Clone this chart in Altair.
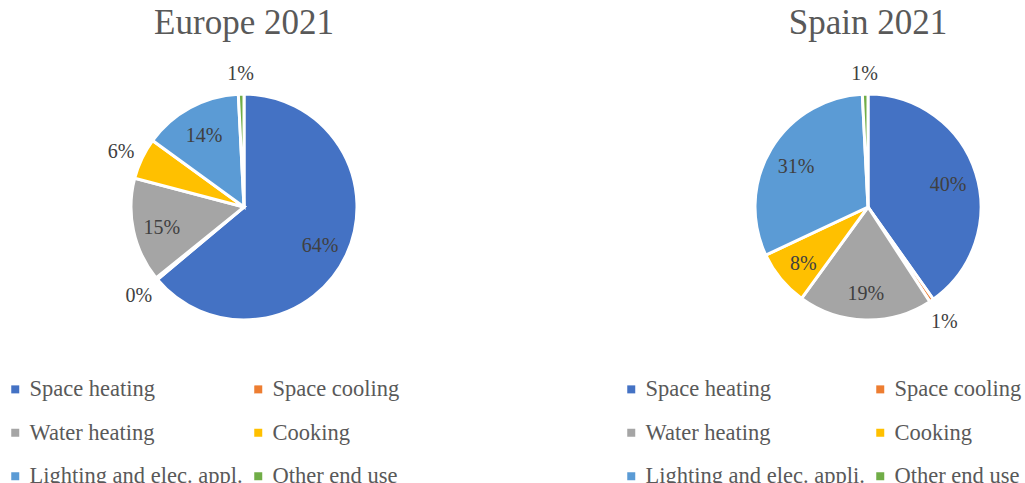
import altair as alt
import pandas as pd

categories_eu = ["Space heating", "Space cooling", "Water heating", "Cooking",
                 "Lighting and elec. appl.", "Other end use"]
categories_es = ["Space heating", "Space cooling", "Water heating", "Cooking",
                 "Lighting and elec. appli.", "Other end use"]
europe_values = [63.9, 0.3, 14.9, 5.9, 14.2, 0.8]
spain_values = [40.2, 0.6, 19.2, 8.0, 31.2, 0.8]
colors = ["#4472C4", "#ED7D31", "#A5A5A5", "#FFC000", "#5B9BD5", "#70AD47"]
titles = ["Europe 2021", "Spain 2021"]

FONT = "Liberation Serif"
# legend is filled column by column: reorder so rows read left to right
LEG_ORDER = [0, 2, 4, 1, 3, 5]


def pie(cats, values, title, cx, cy, legend_x):
    df = pd.DataFrame({"category": cats, "value": values, "order": list(range(len(cats)))})
    total = float(sum(values))
    arc = alt.Chart(df).mark_arc(outerRadius=113, stroke="white", strokeWidth=3).encode(
        theta=alt.Theta("value:Q", stack=True),
        order=alt.Order("order:Q"),
        color=alt.Color(
            "category:N",
            scale=alt.Scale(domain=[cats[i] for i in LEG_ORDER],
                            range=[colors[i] for i in LEG_ORDER]),
            legend=alt.Legend(
                orient="none", legendX=legend_x, legendY=378, columns=2, title=None,
                symbolType="square", symbolSize=64, symbolStrokeWidth=0,
                labelFont=FONT, labelFontSize=22.5, labelColor="#595959",
                rowPadding=20.5, columnPadding=4, labelOffset=3, labelLimit=400,
            ),
        ),
        x=alt.value(cx),
        y=alt.value(cy),
    )
    text = alt.Chart(df).transform_window(
        cum="sum(value)", frame=[None, 0], sort=[alt.SortField("order")]
    ).transform_calculate(
        mid="datum.cum - datum.value / 2",
        label="format(datum.value, '.0f') + '%'",
        r="datum.value < 7 ? 136 : 84",
    ).mark_text(font=FONT, fontSize=20, color="#404040", dy=3).encode(
        theta=alt.Theta("mid:Q", stack=False, scale=alt.Scale(domain=[0, total])),
        text="label:N",
        radius=alt.Radius("r:Q", scale=None),
        x=alt.value(cx),
        y=alt.value(cy),
    )
    ttl = alt.Chart(pd.DataFrame({"t": [title]})).mark_text(
        font=FONT, fontSize=35, color="#595959"
    ).encode(text="t:N", x=alt.value(cx), y=alt.value(23))
    return alt.layer(arc, text, ttl).resolve_scale(theta="independent")


chart = alt.layer(
    pie(categories_eu, europe_values, titles[0], 244, 207, 4),
    pie(categories_es, spain_values, titles[1], 868, 207, 620),
).resolve_scale(color="independent", theta="independent").properties(
    width=1025, height=483, padding=0, autosize=alt.AutoSizeParams(type="none")
).configure_view(stroke=None)

chart.save("out.html", embed_options={"renderer": "svg", "actions": False})
